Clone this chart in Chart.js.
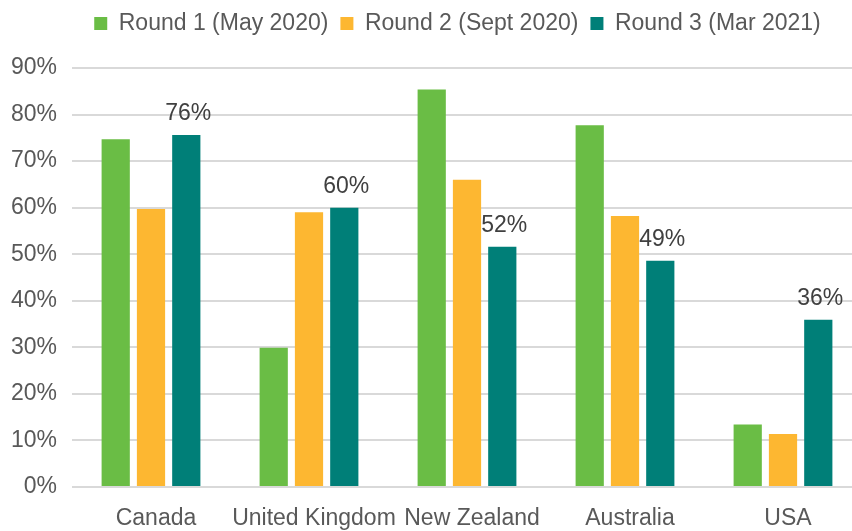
<!DOCTYPE html>
<html lang="en">
<head>
    <meta charset="UTF-8">
    <title>Rounds by country</title>
    <script src="https://cdn.jsdelivr.net/npm/chart.js"></script>
    <style>
        html, body { margin: 0; padding: 0; overflow: hidden; background: #fff; }
    </style>
</head>
<body>
    <canvas id="roundsChart" width="862" height="531"></canvas>

    <script>
// Data
const countries = ['Canada', 'United Kingdom', 'New Zealand', 'Australia', 'USA'];
const round1 = [74.7, 29.9, 85.4, 77.7, 13.4];
const round2 = [59.7, 59.0, 66.0, 58.2, 11.4];
const round3 = [75.6, 60.0, 51.6, 48.6, 35.9];
const seriesNames = ['Round 1 (May 2020)', 'Round 2 (Sept 2020)', 'Round 3 (Mar 2021)'];
const yTicks = [0, 10, 20, 30, 40, 50, 60, 70, 80, 90];

const fontFamily = '"Liberation Sans", Arial, sans-serif';
Chart.defaults.font.family = fontFamily;
Chart.defaults.font.size = 23;
Chart.defaults.color = '#595959';

// extra room under the legend, and nudge it to where the original sits
const legendTweak = {
    id: 'legendTweak',
    beforeInit(chart) {
        const fit = chart.legend.fit;
        chart.legend.fit = function () {
            fit.call(chart.legend);
            this.height += 23;
        };
    },
    afterLayout(chart) {
        chart.legend.left += 21;
        chart.legend.right += 21;
    }
};

// value labels on the last series only
const roundLabels = {
    id: 'roundLabels',
    afterDatasetsDraw(chart) {
        const ctx = chart.ctx;
        const meta = chart.getDatasetMeta(2);
        ctx.save();
        ctx.font = '23px ' + fontFamily;
        ctx.fillStyle = '#404040';
        ctx.textAlign = 'center';
        ctx.textBaseline = 'alphabetic';
        meta.data.forEach((bar, i) => {
            ctx.fillText(Math.round(round3[i]) + '%', bar.x + 2, bar.y - 15);
        });
        ctx.restore();
    }
};

const ctx = document.getElementById('roundsChart').getContext('2d');
new Chart(ctx, {
    type: 'bar',
    data: {
        labels: countries,
        datasets: [
            { label: seriesNames[0], data: round1, backgroundColor: '#6abd45' },
            { label: seriesNames[1], data: round2, backgroundColor: '#fdb731' },
            { label: seriesNames[2], data: round3, backgroundColor: '#007f78' }
        ]
    },
    options: {
        responsive: false,
        animation: false,
        categoryPercentage: 0.67,
        barPercentage: 0.8,
        layout: { padding: { left: 11, right: 0, top: 0, bottom: 0 } },
        plugins: {
            legend: {
                position: 'top',
                labels: {
                    boxWidth: 13,
                    boxHeight: 13,
                    padding: 12,
                    color: '#595959',
                    font: { size: 23 }
                }
            },
            tooltip: { enabled: false }
        },
        scales: {
            x: {
                grid: { display: false, drawTicks: false },
                border: { display: false },
                ticks: { padding: 18, labelOffset: 5, maxRotation: 0, autoSkip: false },
                afterFit(axis) { axis.height = 44; }
            },
            y: {
                min: 0,
                max: 90,
                afterBuildTicks(axis) {
                    axis.ticks = yTicks.map(v => ({ value: v }));
                },
                grid: { color: '#d9d9d9', lineWidth: 2, drawTicks: false },
                border: { display: false },
                ticks: { padding: 15, callback: v => v + '%' },
                afterFit(axis) { axis.width = 61; }
            }
        }
    },
    plugins: [legendTweak, roundLabels]
});
    </script>
</body>
</html>
